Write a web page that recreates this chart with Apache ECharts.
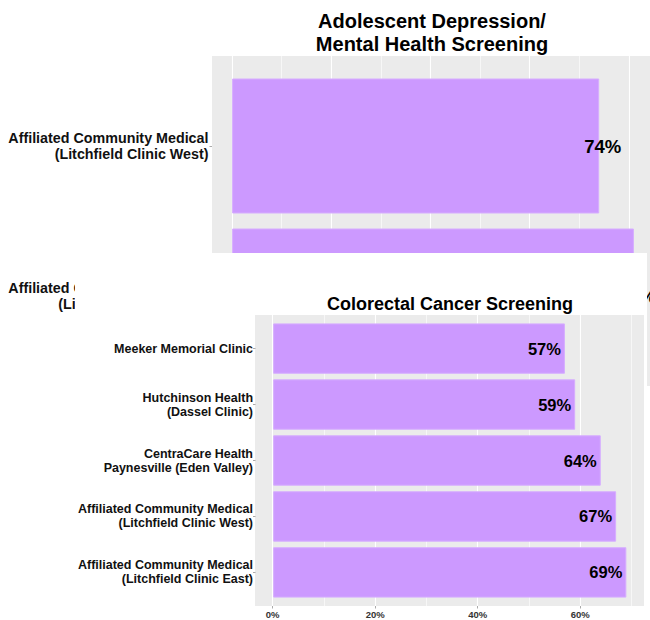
<!DOCTYPE html>
<html>
<head>
<meta charset="utf-8">
<script src="https://cdn.jsdelivr.net/npm/echarts@6/dist/echarts.min.js"></script>
<style>
  html, body { margin: 0; padding: 0; width: 650px; height: 620px; overflow: hidden; background: #fff; }
  #top { position: absolute; left: 0; top: 0; width: 700px; height: 620px; }
  #bottom { position: absolute; left: 75px; top: 253px; width: 572px; height: 367px; background: #fff; }
</style>
</head>
<body>
<div id="top"></div>
<div id="bottom"></div>
<script>
// ---- data ----
const topTitle = 'Adolescent Depression/\nMental Health Screening';
const topCategories = [
  'Affiliated Community Medical\n(Litchfield Clinic East)',
  'Affiliated Community Medical\n(Litchfield Clinic West)'
];
const topValues = [81, 74];

const bottomTitle = 'Colorectal Cancer Screening';
const bottomCategories = [
  'Affiliated Community Medical\n(Litchfield Clinic East)',
  'Affiliated Community Medical\n(Litchfield Clinic West)',
  'CentraCare Health\nPaynesville (Eden Valley)',
  'Hutchinson Health\n(Dassel Clinic)',
  'Meeker Memorial Clinic'
];
const bottomValues = [69, 67, 64, 59, 57];

const majorTicks = [0, 20, 40, 60, 80];
const minorTicks = [10, 30, 50, 70];

// ---- styling ----
const PANEL = '#EBEBEB';
const BAR = '#CC99FF';
const FONT = '"Liberation Sans", Arial, sans-serif';

function buildOption(cfg) {
  const vmax = Math.max.apply(null, cfg.values);
  const lo = -0.05 * vmax, hi = 1.05 * vmax;
  return {
    animation: false,
    title: {
      text: cfg.title,
      left: cfg.titleX - 5,
      top: cfg.titleTop,
      textAlign: 'center',
      textStyle: { fontFamily: FONT, fontWeight: 'bold', fontSize: cfg.titleSize, lineHeight: cfg.titleLH, color: '#000' }
    },
    grid: [
      { left: cfg.left, top: cfg.panelTop, width: cfg.width, height: cfg.panelH, show: true, backgroundColor: PANEL, borderWidth: 0 },
      { left: cfg.left, top: cfg.panelTop + cfg.pad, width: cfg.width, height: cfg.panelH - 2 * cfg.pad, show: false }
    ],
    xAxis: [
      {
        type: 'value', gridIndex: 0, min: lo, max: hi, splitNumber: 4,
        axisLine: { show: false, onZero: false },
        axisTick: { show: cfg.showX, length: 2.5, lineStyle: { color: '#aaa' }, customValues: majorTicks.filter(v => v <= hi) },
        axisLabel: {
          show: cfg.showX, margin: 3, fontFamily: FONT, fontWeight: 'bold', fontSize: 9.5, color: '#333',
          formatter: v => (majorTicks.indexOf(Math.round(v * 1000) / 1000) >= 0 ? v + '%' : '')
        },
        splitLine: { show: true, lineStyle: { color: '#fff', width: 1.1 } }
      },
      { type: 'value', gridIndex: 1, min: lo, max: hi, show: false, splitLine: { show: false } }
    ],
    yAxis: [
      { type: 'value', gridIndex: 0, min: 0, max: 1, show: false, splitLine: { show: false } },
      {
        type: 'category', gridIndex: 1, data: cfg.categories,
        axisLine: { show: false, onZero: false },
        axisTick: { show: true, alignWithLabel: true, length: 2.5, lineStyle: { color: '#aaa' } },
        axisLabel: { margin: cfg.labelMargin, fontFamily: FONT, fontWeight: 'bold', fontSize: cfg.catSize, lineHeight: cfg.catLH, color: '#111', align: 'right' },
        splitLine: { show: false }
      }
    ],
    series: [
      {
        type: 'line', xAxisIndex: 0, yAxisIndex: 0, data: [], silent: true,
        markLine: {
          silent: true, z: 1, symbol: ['none', 'none'], label: { show: false },
          lineStyle: { color: '#fff', width: 0.6, type: 'solid' },
          data: minorTicks.filter(v => v < hi).map(v => ({ xAxis: v }))
        }
      },
      {
        type: 'bar', xAxisIndex: 1, yAxisIndex: 1, data: cfg.values, barWidth: '90%', z: 3,
        itemStyle: { color: BAR, borderColor: '#D6ADFF', borderWidth: 1 },
        label: {
          show: true, position: cfg.labelPos, distance: cfg.labelDist, offset: cfg.labelOffset,
          formatter: '{c}%', fontFamily: FONT, fontWeight: 'bold', fontSize: cfg.valSize, color: '#000'
        }
      }
    ]
  };
}

const topChart = echarts.init(document.getElementById('top'), null, { renderer: 'svg' });
topChart.setOption(buildOption({
  title: topTitle, titleX: 432, titleTop: 4, titleSize: 20, titleLH: 23,
  categories: topCategories, values: topValues,
  left: 212, width: 442, panelTop: 56, panelH: 330, pad: 15,
  showX: false, labelMargin: 3.5, catSize: 14.3, catLH: 16,
  labelPos: 'right', labelDist: 0, labelOffset: [-15, 0], valSize: 18.5
}));

const bottomChart = echarts.init(document.getElementById('bottom'), null, { renderer: 'svg' });
bottomChart.setOption(buildOption({
  title: bottomTitle, titleX: 375, titleTop: 36, titleSize: 18, titleLH: 20,
  categories: bottomCategories, values: bottomValues,
  left: 180, width: 389, panelTop: 62, panelH: 291, pad: 5.6,
  showX: true, labelMargin: 2.5, catSize: 12.5, catLH: 14,
  labelPos: 'insideRight', labelDist: 4, labelOffset: [0, 0], valSize: 16.5
}));
</script>
</body>
</html>
